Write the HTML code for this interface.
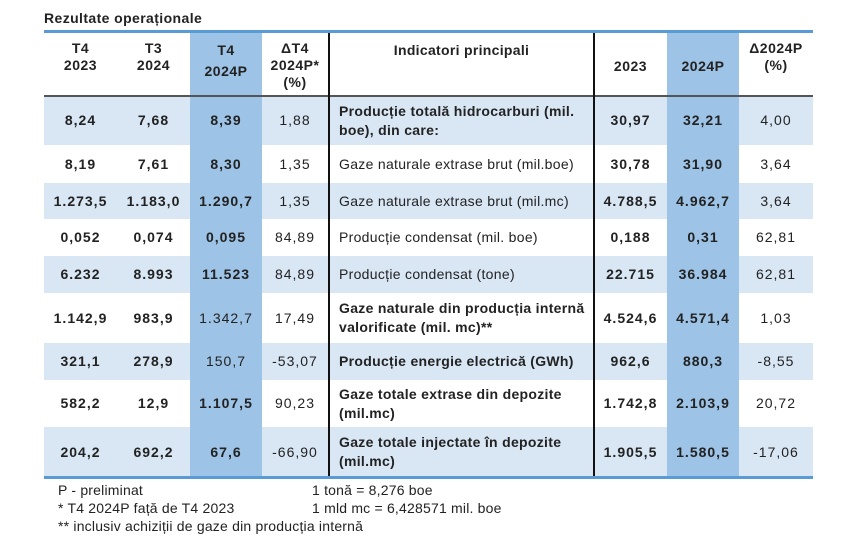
<!DOCTYPE html>
<html><head><meta charset="utf-8"><style>
body{margin:0;width:850px;height:550px;background:#fff;font-family:"Liberation Sans",sans-serif;color:#222;position:relative;overflow:hidden}
.a{position:absolute}
.c{position:absolute;display:flex;align-items:center;justify-content:center;text-align:center;font-size:14px;line-height:17px;letter-spacing:1px}
.t{position:absolute;display:flex;align-items:center;font-size:14px;line-height:19px;padding-left:9px;box-sizing:border-box;letter-spacing:0.3px}
.h{letter-spacing:0.5px}
</style></head><body>
<div class="a" style="left:44px;top:10px;font-size:14px;letter-spacing:0.4px;font-weight:bold">Rezultate operaționale</div>
<div class="a" style="left:44px;top:30px;width:769px;height:3px;background:#5b9bd5"></div>
<div class="a" style="left:44px;top:96px;width:769px;height:49px;background:#d9e7f5"></div>
<div class="a" style="left:44px;top:183px;width:769px;height:36px;background:#d9e7f5"></div>
<div class="a" style="left:44px;top:256px;width:769px;height:37px;background:#d9e7f5"></div>
<div class="a" style="left:44px;top:343px;width:769px;height:37px;background:#d9e7f5"></div>
<div class="a" style="left:44px;top:427px;width:769px;height:50px;background:#d9e7f5"></div>
<div class="a" style="left:190px;top:33px;width:72px;height:444px;background:#9dc3e6"></div>
<div class="a" style="left:667px;top:33px;width:72px;height:444px;background:#9dc3e6"></div>
<div class="a" style="left:44px;top:95px;width:769px;height:2px;background:#555"></div>
<div class="a" style="left:328px;top:33px;width:1.5px;height:444px;background:#111"></div>
<div class="a" style="left:593px;top:33px;width:1.5px;height:444px;background:#111"></div>
<div class="a" style="left:44px;top:476px;width:769px;height:3px;background:#5b9bd5"></div>
<div class="c h" style="left:44px;top:40px;width:73px;font-weight:bold;align-items:flex-start">T4<br>2023</div>
<div class="c h" style="left:117px;top:40px;width:73px;font-weight:bold;align-items:flex-start">T3<br>2024</div>
<div class="c h" style="left:190px;top:40px;width:72px;height:50px;font-weight:bold;align-items:flex-start;line-height:21px">T4<br>2024P</div>
<div class="c h" style="left:262px;top:40px;width:66px;font-weight:bold;align-items:flex-start">ΔT4<br>2024P*<br>(%)</div>
<div class="c" style="left:330px;top:42px;width:263px;font-weight:bold;align-items:flex-start;letter-spacing:0.3px">Indicatori principali</div>
<div class="c h" style="left:594px;top:58px;width:73px;font-weight:bold">2023</div>
<div class="c h" style="left:667px;top:58px;width:72px;font-weight:bold">2024P</div>
<div class="c h" style="left:739px;top:40px;width:74px;font-weight:bold;align-items:flex-start">Δ2024P<br>(%)</div>
<div id="rows"></div>
<script>
var R=[
[96,49,"8,24","7,68","8,39","1,88","Producție totală hidrocarburi (mil. boe), din care:","30,97","32,21","4,00",[1,1,1,0,1,1,1,0]],
[145,38,"8,19","7,61","8,30","1,35","Gaze naturale extrase brut (mil.boe)","30,78","31,90","3,64",[1,1,1,0,0,1,1,0]],
[183,36,"1.273,5","1.183,0","1.290,7","1,35","Gaze naturale extrase brut (mil.mc)","4.788,5","4.962,7","3,64",[1,1,1,0,0,1,1,0]],
[219,37,"0,052","0,074","0,095","84,89","Producție condensat (mil. boe)","0,188","0,31","62,81",[1,1,1,0,0,1,1,0]],
[256,37,"6.232","8.993","11.523","84,89","Producție condensat (tone)","22.715","36.984","62,81",[1,1,1,0,0,1,1,0]],
[293,50,"1.142,9","983,9","1.342,7","17,49","Gaze naturale din producția internă valorificate (mil. mc)**","4.524,6","4.571,4","1,03",[1,1,0,0,1,1,1,0]],
[343,37,"321,1","278,9","150,7","-53,07","Producție energie electrică (GWh)","962,6","880,3","-8,55",[1,1,0,0,1,1,1,0]],
[380,47,"582,2","12,9","1.107,5","90,23","Gaze totale extrase din depozite (mil.mc)","1.742,8","2.103,9","20,72",[1,1,1,0,1,1,1,0]],
[427,50,"204,2","692,2","67,6","-66,90","Gaze totale injectate în depozite (mil.mc)","1.905,5","1.580,5","-17,06",[1,1,1,0,1,1,1,0]]
];
var X=[[44,73],[117,73],[190,72],[262,66],[330,263],[594,73],[667,72],[739,74]];
var h="";
R.forEach(function(r){
 for(var i=0;i<8;i++){
  var bw=r[10][i]?"bold":"normal";
  var cls=i==4?"t":"c";
  h+='<div class="'+cls+'" style="left:'+X[i][0]+'px;top:'+r[0]+'px;width:'+X[i][1]+'px;height:'+r[1]+'px;font-weight:'+bw+(i==4?';padding-right:4px':'')+'">'+r[2+i]+'</div>';
 }
});
document.getElementById("rows").innerHTML=h;
</script>
<div class="a" style="left:58px;top:481px;font-size:14px;letter-spacing:0.2px;line-height:18px">P - preliminat<br>* T4 2024P față de T4 2023<br>** inclusiv achiziții de gaze din producția internă</div>
<div class="a" style="left:312px;top:481px;font-size:14px;letter-spacing:0.2px;line-height:18px">1 tonă = 8,276 boe<br>1 mld mc = 6,428571 mil. boe</div>
</body></html>
